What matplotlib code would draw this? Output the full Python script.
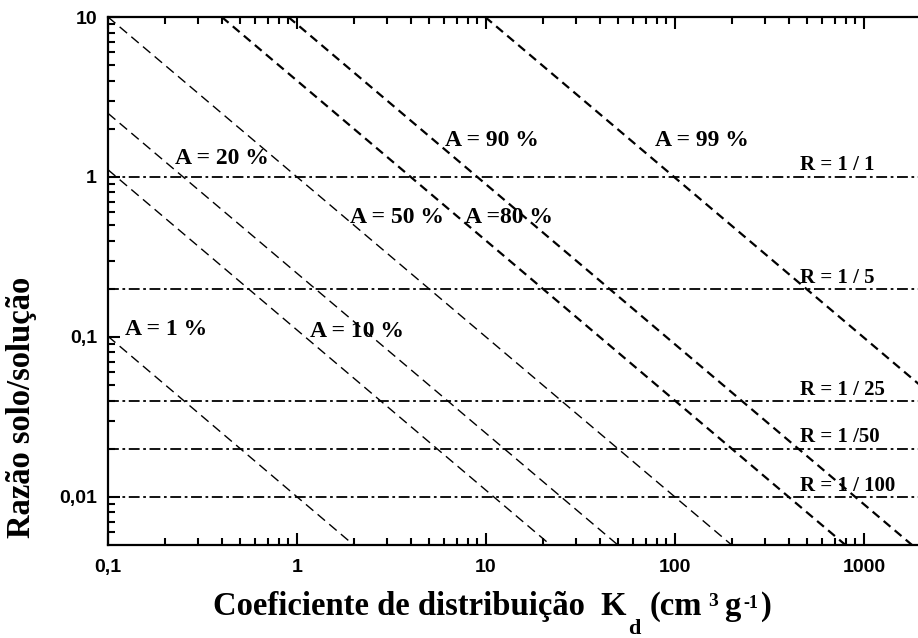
import numpy as np
import matplotlib.pyplot as plt
from matplotlib.ticker import LogLocator, NullFormatter

# horizontal lines: soil/solution ratio R
r_values = [1, 0.2, 0.04, 0.02, 0.01]
r_labels = ['R = 1 / 1', 'R = 1 / 5', 'R = 1 / 25', 'R = 1 /50', 'R = 1 / 100']
r_label_y = [1.19, 0.234, 0.0467, 0.0237, 0.0117]

# sloped lines: adsorbed fraction A, endpoints (Kd, R)
a_names = ['1', '10', '20', '50', '80', '90', '99']
a_kd0 = [0.1, 0.1, 0.1, 0.1, 0.4, 0.9, 9.9]
a_r0 = [0.101, 1.11, 2.5, 10, 10, 10, 10]
a_kd1 = [2.0, 22, 50, 200, 800, 1800, 1980]
a_r1 = [0.005, 0.005, 0.005, 0.005, 0.005, 0.005, 0.05]

a_labels = ['A = 1 %', 'A = 10 %', 'A = 20 %', 'A = 50 %', 'A =80 %', 'A = 90 %', 'A = 99 %']
a_label_x = [0.123, 1.17, 0.226, 1.9, 7.7, 6.07, 78]
a_label_y = [0.111, 0.108, 1.31, 0.56, 0.56, 1.70, 1.70]

x_ticks = [0.1, 1, 10, 100, 1000]
x_ticklabels = ['0,1', '1', '10', '100', '1000']
y_ticks = [0.01, 0.1, 1, 10]
y_ticklabels = ['0,01', '0,1', '1', '10']

W, H = 918, 638
fig = plt.figure(figsize=(W / 100, H / 100), dpi=100)
ax = fig.add_axes([108 / W, (H - 545) / H, (W - 108) / W, (545 - 17) / H])
ax.set_xscale('log')
ax.set_yscale('log')
ax.set_xlim(0.1, 1932)
ax.set_ylim(0.00501, 10)

for r in r_values:
    ax.plot([0.1, 1932], [r, r], color='black', lw=1.3, dashes=(6, 2, 1.5, 2))

for i in range(len(a_names)):
    if i < 4:
        lw, dash = 1.0, (7, 4)
    else:
        lw, dash = 1.6, (4, 2.5)
    ax.plot([a_kd0[i], a_kd1[i]], [a_r0[i], a_r1[i]], color='black', lw=lw, dashes=dash)

serif = 'Liberation Serif'
for txt, x, y in zip(a_labels, a_label_x, a_label_y):
    ax.text(x, y, txt, fontfamily=serif, fontweight='bold', fontsize=17, va='center', ha='left')
for txt, y in zip(r_labels, r_label_y):
    ax.text(458, y, txt, fontfamily=serif, fontweight='bold', fontsize=15, va='center', ha='left')

ax.spines['right'].set_visible(False)
for s in ['left', 'bottom', 'top']:
    ax.spines[s].set_linewidth(1.6)

ax.set_xticks(x_ticks)
ax.set_xticklabels(x_ticklabels)
ax.set_yticks(y_ticks)
ax.set_yticklabels(y_ticklabels)
ax.xaxis.set_minor_locator(LogLocator(base=10, subs=np.arange(2, 10)))
ax.yaxis.set_minor_locator(LogLocator(base=10, subs=np.arange(2, 10)))
ax.xaxis.set_minor_formatter(NullFormatter())
ax.yaxis.set_minor_formatter(NullFormatter())
ax.tick_params(which='both', direction='in', top=True, right=False, width=1.5)
ax.tick_params(which='major', length=8.5)
ax.tick_params(which='minor', length=5)
ax.tick_params(axis='x', pad=10)
ax.tick_params(axis='y', pad=8)
for lab in ax.get_xticklabels() + ax.get_yticklabels():
    lab.set_fontfamily('Liberation Sans')
    lab.set_fontweight('bold')
    lab.set_fontsize(14)

# axis titles
fig.text(22 / W, 1 - 407 / H, 'Razão solo/solução', rotation=90, fontfamily=serif,
         fontweight='bold', fontsize=23.5, ha='center', va='center')
fig.text(213 / W, 1 - 615 / H, 'Coeficiente de distribuição  K', fontfamily=serif,
         fontweight='bold', fontsize=23.5, ha='left', va='baseline')
fig.text(628 / W, 1 - 634 / H, 'd', fontfamily=serif, fontweight='bold', fontsize=16,
         ha='left', va='baseline')
fig.text(650 / W, 1 - 615 / H, '(cm', fontfamily=serif, fontweight='bold', fontsize=23.5,
         ha='left', va='baseline')
fig.text(708 / W, 1 - 606 / H, '3', fontfamily=serif, fontweight='bold', fontsize=14,
         ha='left', va='baseline')
fig.text(724 / W, 1 - 615 / H, 'g', fontfamily=serif, fontweight='bold', fontsize=23.5,
         ha='left', va='baseline')
fig.text(743 / W, 1 - 608 / H, '-1', fontfamily=serif, fontweight='bold', fontsize=13,
         ha='left', va='baseline')
fig.text(761 / W, 1 - 615 / H, ')', fontfamily=serif, fontweight='bold', fontsize=23.5,
         ha='left', va='baseline')

fig.savefig('out.png', dpi=100)
